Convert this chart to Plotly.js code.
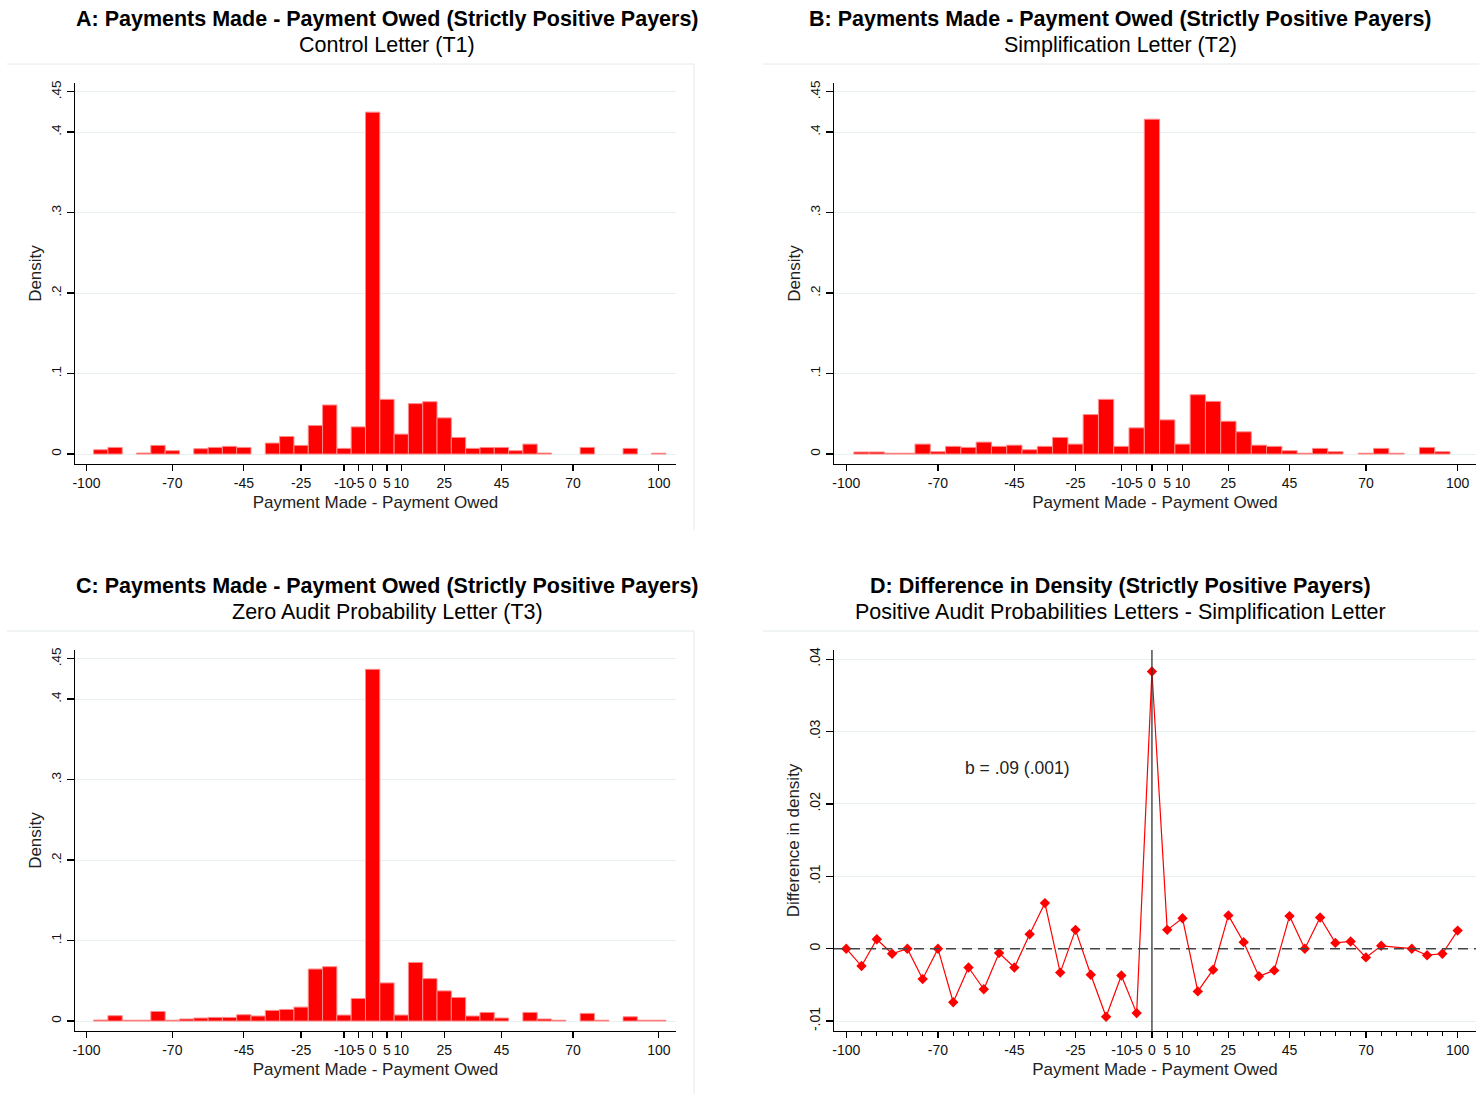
<!DOCTYPE html>
<html><head><meta charset="utf-8">
<script src="https://cdn.plot.ly/plotly-3.0.1.min.js"></script>
<style>html,body{margin:0;padding:0;background:#fff;overflow:hidden}#chart{width:1479px;height:1094px}</style>
</head><body><div id="chart"></div>
<script>
// ---- data ----
const binCenters = [-100,-95,-90,-85,-80,-75,-70,-65,-60,-55,-50,-45,-40,-35,-30,-25,-20,-15,-10,-5,0,5,10,15,20,25,30,35,40,45,50,55,60,65,70,75,80,85,90,95,100];
const densityT1 = [null,0.0053,0.0082,null,0.0012,0.0107,0.0041,null,0.0066,0.0082,0.0095,0.0082,null,0.0136,0.0218,0.0107,0.0354,0.0609,0.0070,0.0337,0.4248,0.0679,0.0247,0.0626,0.0650,0.0449,0.0206,0.0070,0.0082,0.0082,0.0041,0.0123,0.0012,null,null,0.0082,null,null,0.0070,null,0.0010];
const densityT2 = [null,0.0025,0.0025,0.0010,0.0010,0.0123,0.0029,0.0095,0.0082,0.0148,0.0095,0.0110,0.0053,0.0095,0.0206,0.0123,0.0490,0.0679,0.0095,0.0325,0.4160,0.0424,0.0123,0.0737,0.0654,0.0407,0.0276,0.0110,0.0095,0.0041,0.0010,0.0070,0.0029,null,0.0010,0.0070,0.0010,null,0.0082,0.0029,null];
const densityT3 = [null,0.0012,0.0066,0.0010,0.0010,0.0119,0.0010,0.0025,0.0037,0.0045,0.0045,0.0078,0.0062,0.0132,0.0144,0.0173,0.0646,0.0675,0.0074,0.0280,0.4370,0.0473,0.0074,0.0728,0.0527,0.0374,0.0292,0.0062,0.0107,0.0037,null,0.0107,0.0025,0.0010,null,0.0095,0.0010,null,0.0053,0.0010,0.0010];
const diffX = [-100,-95,-90,-85,-80,-75,-70,-65,-60,-55,-50,-45,-40,-35,-30,-25,-20,-15,-10,-5,0,5,10,15,20,25,30,35,40,45,50,55,60,65,70,75,85,90,95,100];
const diffY = [0,-0.0024,0.0013,-0.0007,0,-0.0042,0,-0.0074,-0.0026,-0.0056,-0.0006,-0.0026,0.0020,0.0063,-0.0033,0.0026,-0.0036,-0.0094,-0.0037,-0.0089,0.0383,0.0026,0.0042,-0.0059,-0.0029,0.0046,0.0009,-0.0038,-0.0030,0.0045,0,0.0043,0.0008,0.0010,-0.0012,0.0004,0,-0.0009,-0.0007,0.0025];
const xTickVals = [-100,-70,-45,-25,-10,-5,0,5,10,25,45,70,100];
const xTickText = ['-100','-70','-45','-25','-10','-5','0','5','10','25','45','70','100'];
const xMinorVals = [-95,-90,-85,-80,-75,-65,-60,-55,-50,-40,-35,-30,-20,-15,15,20,30,35,40,50,55,60,65,75,80,85,90,95];
const yTickValsHist = [0,0.1,0.2,0.3,0.4,0.45];
const yTickTextHist = ['0','.1','.2','.3','.4','.45'];
const yTickValsDiff = [-0.01,0,0.01,0.02,0.03,0.04];
const yTickTextDiff = ['-.01','0','.01','.02','.03','.04'];
const panelTitles = [
  'A: Payments Made - Payment Owed (Strictly Positive Payers)',
  'B: Payments Made - Payment Owed (Strictly Positive Payers)',
  'C: Payments Made - Payment Owed (Strictly Positive Payers)',
  'D: Difference in Density (Strictly Positive Payers)'];
const panelSubtitles = ['Control Letter (T1)','Simplification Letter (T2)','Zero Audit Probability Letter (T3)','Positive Audit Probabilities Letters - Simplification Letter'];
const xTitle = 'Payment Made - Payment Owed';
const annotationText = 'b = .09 (.001)';

// ---- layout helpers ----
const W = 1479, H = 1094;
const fx = p => p / W;
const fy = p => 1 - p / H;
const FONT = '"Liberation Sans", Arial, sans-serif';
const RED = '#ff0000';

function xAxis(left, right, minor) {
  const a = {
    domain: [fx(left), fx(right)], range: [-104, 106], anchor: null,
    tickmode: 'array', tickvals: xTickVals, ticktext: xTickText, tickangle: 0,
    ticks: 'outside', ticklen: 6, tickwidth: 1.2, tickcolor: '#000',
    showline: true, linecolor: '#000', linewidth: 1.3,
    showgrid: false, zeroline: false,
    tickfont: {family: FONT, size: 14, color: '#111'},
    title: {text: xTitle, font: {family: FONT, size: 17, color: '#222'}, standoff: 6},
    automargin: false, fixedrange: true
  };
  if (minor) a.minor = {tickmode: 'array', tickvals: xMinorVals, ticks: 'outside', ticklen: 4, tickwidth: 1, tickcolor: '#000', showgrid: false};
  return a;
}
function yAxis(top, bottom, range, vals, text, title, fs) {
  return {
    domain: [fy(bottom), fy(top)], range: range,
    tickmode: 'array', tickvals: vals, ticktext: text, tickangle: -90,
    ticks: 'outside', ticklen: 7, tickwidth: 1.2, tickcolor: '#000',
    showline: true, linecolor: '#000', linewidth: 1.3,
    showgrid: true, gridcolor: '#e8f0f1', gridwidth: 1, zeroline: false,
    tickfont: {family: FONT, size: fs, color: '#111'},
    title: {text: title, font: {family: FONT, size: 17, color: '#222'}, standoff: 3},
    automargin: false, fixedrange: true
  };
}

const HIST_RANGE = [-0.0124, 0.461];
const DIFF_RANGE = [-0.01137, 0.04126];

function barTrace(vals, xa, ya) {
  return {type: 'bar', x: binCenters, y: vals, width: 5, xaxis: xa, yaxis: ya,
    marker: {color: RED, line: {color: '#ff8a8a', width: 1}}, hoverinfo: 'x+y', showlegend: false};
}

const data = [
  barTrace(densityT1, 'x', 'y'),
  barTrace(densityT2, 'x2', 'y2'),
  barTrace(densityT3, 'x3', 'y3'),
  {type: 'scatter', mode: 'lines+markers', x: diffX, y: diffY, xaxis: 'x4', yaxis: 'y4',
   line: {color: RED, width: 1.2}, marker: {symbol: 'diamond', size: 8, color: RED}, showlegend: false}
];

const xa1 = xAxis(75, 676, false); xa1.anchor = 'y';
const xa2 = xAxis(834, 1476, false); xa2.anchor = 'y2';
const xa3 = xAxis(75, 676, false); xa3.anchor = 'y3';
const xa4 = xAxis(834, 1476, true); xa4.anchor = 'y4';
const ya1 = yAxis(83, 464, HIST_RANGE, yTickValsHist, yTickTextHist, 'Density', 13.5); ya1.anchor = 'x';
const ya2 = yAxis(83, 464, HIST_RANGE, yTickValsHist, yTickTextHist, 'Density', 13.5); ya2.anchor = 'x2';
const ya3 = yAxis(650, 1031, HIST_RANGE, yTickValsHist, yTickTextHist, 'Density', 13.5); ya3.anchor = 'x3';
const ya4 = yAxis(650, 1031, DIFF_RANGE, yTickValsDiff, yTickTextDiff, 'Difference in density', 14); ya4.anchor = 'x4';

const titleCenters = [[387, 19, 45], [1120, 19, 45], [387, 586, 612], [1120, 586, 612]];
const annotations = [];
titleCenters.forEach((c, i) => {
  annotations.push({xref: 'paper', yref: 'paper', x: fx(c[0]), y: fy(c[1]), xanchor: 'center', yanchor: 'middle',
    text: '<b>' + panelTitles[i] + '</b>', showarrow: false, font: {family: FONT, size: 21.5, color: '#000'}});
  annotations.push({xref: 'paper', yref: 'paper', x: fx(c[0]), y: fy(c[2]), xanchor: 'center', yanchor: 'middle',
    text: panelSubtitles[i], showarrow: false, font: {family: FONT, size: 21.5, color: '#000'}});
});
annotations.push({xref: 'x4', yref: 'y4', x: -44, y: 0.025, xanchor: 'center', yanchor: 'middle',
  text: annotationText, showarrow: false, font: {family: FONT, size: 17.5, color: '#222'}});

const BOX = '#e2eaec';
const shapes = [
  {type: 'line', xref: 'paper', yref: 'paper', x0: fx(7), x1: fx(694), y0: fy(64), y1: fy(64), line: {color: BOX, width: 1}},
  {type: 'line', xref: 'paper', yref: 'paper', x0: fx(694), x1: fx(694), y0: fy(64), y1: fy(530), line: {color: BOX, width: 1}},
  {type: 'line', xref: 'paper', yref: 'paper', x0: fx(763), x1: fx(1479), y0: fy(64), y1: fy(64), line: {color: BOX, width: 1}},
  {type: 'line', xref: 'paper', yref: 'paper', x0: fx(7), x1: fx(694), y0: fy(631), y1: fy(631), line: {color: BOX, width: 1}},
  {type: 'line', xref: 'paper', yref: 'paper', x0: fx(694), x1: fx(694), y0: fy(631), y1: fy(1094), line: {color: BOX, width: 1}},
  {type: 'line', xref: 'paper', yref: 'paper', x0: fx(763), x1: fx(1479), y0: fy(631), y1: fy(631), line: {color: BOX, width: 1}},
  {type: 'line', xref: 'x4 domain', yref: 'y4', x0: 0, x1: 1, y0: 0, y1: 0, line: {color: '#444', width: 1.6, dash: '10px,6px'}},
  {type: 'line', xref: 'x4', yref: 'y4 domain', x0: 0, x1: 0, y0: 0, y1: 1, line: {color: '#333', width: 1.3}}
];

const layout = {
  width: W, height: H, margin: {l: 0, r: 0, t: 0, b: 0},
  paper_bgcolor: '#fff', plot_bgcolor: '#fff', bargap: 0, barmode: 'overlay',
  showlegend: false, font: {family: FONT},
  xaxis: xa1, xaxis2: xa2, xaxis3: xa3, xaxis4: xa4,
  yaxis: ya1, yaxis2: ya2, yaxis3: ya3, yaxis4: ya4,
  annotations: annotations, shapes: shapes
};

Plotly.newPlot('chart', data, layout, {displayModeBar: false, staticPlot: true});
</script>
</body></html>
